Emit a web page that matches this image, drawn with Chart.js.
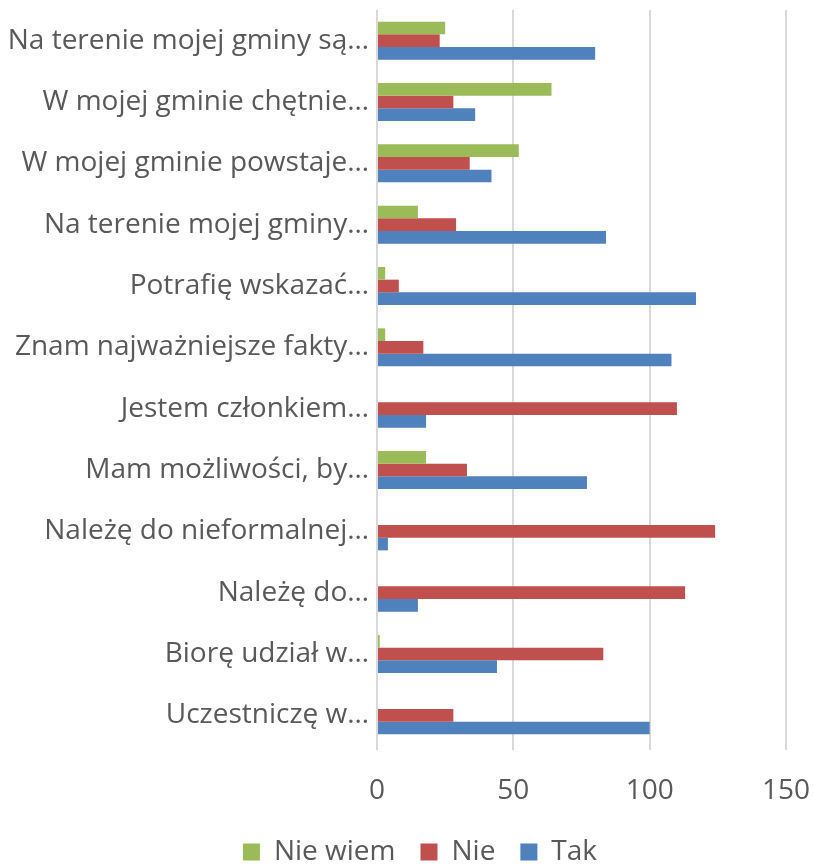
<!DOCTYPE html>
<html>
<head>
<meta charset="utf-8">
<script src="https://cdn.jsdelivr.net/npm/chart.js@4/dist/chart.umd.min.js"></script>
<style>
  body { margin: 0; background: #fff; }
  #chart { display: block; }
</style>
</head>
<body>
<canvas id="chart" width="813" height="865"></canvas>
<script>
// Category labels (truncated the same way as in the source chart)
const categories = [
    "Na terenie mojej gminy są…",
    "W mojej gminie chętnie…",
    "W mojej gminie powstaje…",
    "Na terenie mojej gminy…",
    "Potrafię wskazać…",
    "Znam najważniejsze fakty…",
    "Jestem członkiem…",
    "Mam możliwości, by…",
    "Należę do nieformalnej…",
    "Należę do…",
    "Biorę udział w…",
    "Uczestniczę w…"
];

// Series values
const nieWiem = [25, 64, 52, 15, 3, 3, 0, 18, 0, 0, 1, 0];
const nie     = [23, 28, 34, 29, 8, 17, 110, 33, 124, 113, 83, 28];
const tak     = [80, 36, 42, 84, 117, 108, 18, 77, 4, 15, 44, 100];

const xTicks = [0, 50, 100, 150];

const textColor = '#595959';
const gridColor = '#d9d9d9';
const fontFamily = "'Open Sans', sans-serif";

// Legend is centred under the whole picture, not under the padded area: nudge it right
const shiftLegend = {
    id: 'shiftLegend',
    afterLayout(chart) {
        chart.legend.left += 27;
        chart.legend.right += 27;
    }
};

const ctx = document.getElementById('chart').getContext('2d');

new Chart(ctx, {
    type: 'bar',
    data: {
        labels: categories,
        datasets: [
            { label: 'Nie wiem', data: nieWiem, backgroundColor: '#9bbb59' },
            { label: 'Nie', data: nie, backgroundColor: '#c0504d' },
            { label: 'Tak', data: tak, backgroundColor: '#4f81bd' }
        ]
    },
    options: {
        indexAxis: 'y',
        responsive: false,
        animation: false,
        devicePixelRatio: 1,
        datasets: {
            bar: {
                categoryPercentage: 0.62,
                barPercentage: 1.0,
                borderWidth: 0
            }
        },
        layout: {
            padding: { top: 10, right: 27, left: 0, bottom: -11 }
        },
        plugins: {
            tooltip: { enabled: false },
            legend: {
                position: 'bottom',
                labels: {
                    color: textColor,
                    font: { family: fontFamily, size: 28 },
                    boxWidth: 17,
                    boxHeight: 17,
                    padding: 25
                }
            }
        },
        scales: {
            x: {
                min: xTicks[0],
                max: xTicks[xTicks.length - 1],
                afterBuildTicks: (scale) => {
                    scale.ticks = xTicks.map(v => ({ value: v }));
                },
                afterFit: (scale) => {
                    scale.height = 67;
                    scale.paddingLeft = 0;
                    scale.paddingRight = 0;
                },
                border: { display: false },
                grid: {
                    color: gridColor,
                    lineWidth: 2,
                    drawTicks: true,
                    tickLength: 4
                },
                ticks: {
                    color: textColor,
                    font: { family: fontFamily, size: 28 },
                    padding: 24
                }
            },
            y: {
                afterFit: (scale) => {
                    scale.width = 377;
                    scale.paddingTop = 0;
                    scale.paddingBottom = 0;
                },
                border: { display: false },
                grid: { display: false },
                ticks: {
                    color: textColor,
                    font: { family: fontFamily, size: 28 },
                    padding: 0,
                    autoSkip: false
                }
            }
        }
    },
    plugins: [shiftLegend]
});
</script>
</body>
</html>
